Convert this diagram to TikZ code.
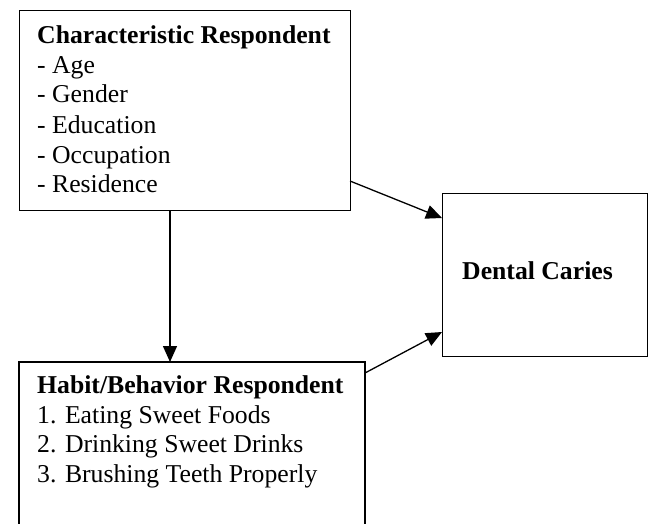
\documentclass[tikz,border=0pt]{standalone}
\usepackage{fontspec}
\setmainfont{Liberation Serif}
\usetikzlibrary{arrows.meta}
\begin{document}
\begin{tikzpicture}[x=1pt,y=-1pt,
  box/.style={draw,line width=1.3pt},
  txt/.style={anchor=base west,inner sep=0pt,font=\fontsize{25.7}{29.5}\selectfont},
  btxt/.style={txt,font=\fontsize{25.7}{29.5}\selectfont\bfseries},
  conn/.style={line width=1.3pt,-{Triangle[length=16pt,width=14pt]}}]
\useasboundingbox (0,0) rectangle (651,523);
% boxes
\node[box,minimum width=331pt,minimum height=200pt,anchor=north west,inner sep=0pt] (char) at (19,10) {};
\node[box,minimum width=205pt,minimum height=163pt,anchor=north west,inner sep=0pt] (dent) at (442,193) {};
\draw[line width=1.3pt] (19,540) coordinate (hbl) -- (19,362) coordinate (htl) -- (365,362) coordinate (htr) -- (365,540) coordinate (hbr);
% texts
\node[btxt] (t0) at (37,43) {Characteristic Respondent};
\node[txt] (t1) at (37,73) {- Age};
\node[txt] (t2) at (37,102) {- Gender};
\node[txt] (t3) at (37,133) {- Education};
\node[txt] (t4) at (37,163) {- Occupation};
\node[txt] (t5) at (37,192) {- Residence};
\node[btxt] (h0) at (37,393) {Habit/Behavior Respondent};
\node[txt] (h1) at (37,423) {1. Eating Sweet Foods};
\node[txt] (h2) at (37,452) {2. Drinking Sweet Drinks};
\node[txt] (h3) at (37,482) {3. Brushing Teeth Properly};
\node[btxt] (d0) at (462,279) {Dental Caries};
% connectors
\coordinate (a1s) at (350,181);
\coordinate (a1e) at (442,218);
\coordinate (a2s) at (365,373);
\coordinate (a2e) at (442,332);
\coordinate (a3s) at (170,210);
\coordinate (a3e) at (170,362);
\draw[conn] (a1s) -- (a1e);
\draw[conn] (a2s) -- (a2e);
\draw[conn] (a3s) -- (a3e);
\end{tikzpicture}
\end{document}
